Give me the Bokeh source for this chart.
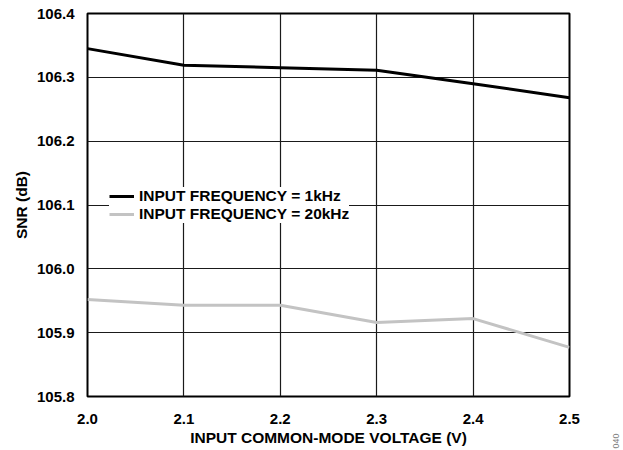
from bokeh.plotting import figure
from bokeh.layouts import row
from bokeh.models import Range1d, FixedTicker, Legend, LegendItem, Div
from bokeh.embed import file_html
from bokeh.resources import INLINE

# Data
voltage = [2.0, 2.1, 2.2, 2.3, 2.4, 2.5]
snr_1khz = [106.345, 106.319, 106.315, 106.311, 106.290, 106.268]
snr_20khz = [105.952, 105.943, 105.943, 105.916, 105.922, 105.877]
x_ticks = [2.0, 2.1, 2.2, 2.3, 2.4, 2.5]
y_ticks = [105.8, 105.9, 106.0, 106.1, 106.2, 106.3, 106.4]
series_labels = ["INPUT FREQUENCY = 1kHz", "INPUT FREQUENCY = 20kHz"]
x_title = "INPUT COMMON-MODE VOLTAGE (V)"
y_title = "SNR (dB)"
fig_id = "040"

FONT = "Liberation Sans"
FS = "15px"

p = figure(width=602, height=448, output_backend="svg", toolbar_location=None,
           x_range=Range1d(2.0, 2.5), y_range=Range1d(105.8, 106.4),
           min_border_left=87, min_border_right=33, min_border_top=13, min_border_bottom=50)
p.outline_line_color = "black"
p.outline_line_width = 2
p.background_fill_color = "white"
p.border_fill_color = "white"

for ax in (p.xaxis[0], p.yaxis[0]):
    ax.axis_line_color = None
    ax.major_tick_line_color = None
    ax.minor_tick_line_color = None
    ax.major_label_text_font = FONT
    ax.major_label_text_font_style = "bold"
    ax.major_label_text_font_size = FS
    ax.major_label_text_color = "black"
    ax.axis_label_text_font = FONT
    ax.axis_label_text_font_style = "bold"
    ax.axis_label_text_font_size = "15.5px"
    ax.axis_label_text_color = "black"

p.xaxis.ticker = FixedTicker(ticks=x_ticks)
p.yaxis.ticker = FixedTicker(ticks=y_ticks)
p.xaxis.major_label_overrides = {t: f"{t:.1f}" for t in x_ticks}
p.yaxis.major_label_overrides = {t: f"{t:.1f}" for t in y_ticks}
p.xaxis.major_label_standoff = 11
p.yaxis.major_label_standoff = 7
p.xaxis.axis_label = x_title
p.yaxis.axis_label = y_title
p.xaxis.axis_label_standoff = 2
p.yaxis.axis_label_standoff = 4

p.xgrid.ticker = FixedTicker(ticks=x_ticks)
p.ygrid.ticker = FixedTicker(ticks=y_ticks)
for g in (p.xgrid[0], p.ygrid[0]):
    g.grid_line_color = "#1a1a1a"
    g.grid_line_width = 1.2

r1 = p.line(voltage, snr_1khz, line_color="black", line_width=3)
r2 = p.line(voltage, snr_20khz, line_color="#c3c3c3", line_width=3)

legend = Legend(items=[LegendItem(label=series_labels[0], renderers=[r1]),
                       LegendItem(label=series_labels[1], renderers=[r2])],
                location=(22, 173), padding=6, spacing=0, margin=0,
                glyph_width=25, glyph_height=16, label_height=16, label_standoff=5,
                label_text_font=FONT, label_text_font_style="bold",
                label_text_font_size="15.5px", label_text_color="black",
                background_fill_color="white", background_fill_alpha=1.0,
                border_line_color=None)
p.add_layout(legend)

# figure id at the lower right corner, rotated to read upwards
id_div = Div(
    text=('<div style="position:absolute; left:0px; top:426px; width:18px; height:20px; '
          'transform:rotate(-90deg); font-family:\'Liberation Sans\'; font-size:9px; '
          'line-height:20px; text-align:center; color:#808080;">' + fig_id + '</div>'),
    width=18, height=448, styles={"position": "relative"})

layout = row(p, id_div)

open("out.html", "w").write(file_html(layout, INLINE))
